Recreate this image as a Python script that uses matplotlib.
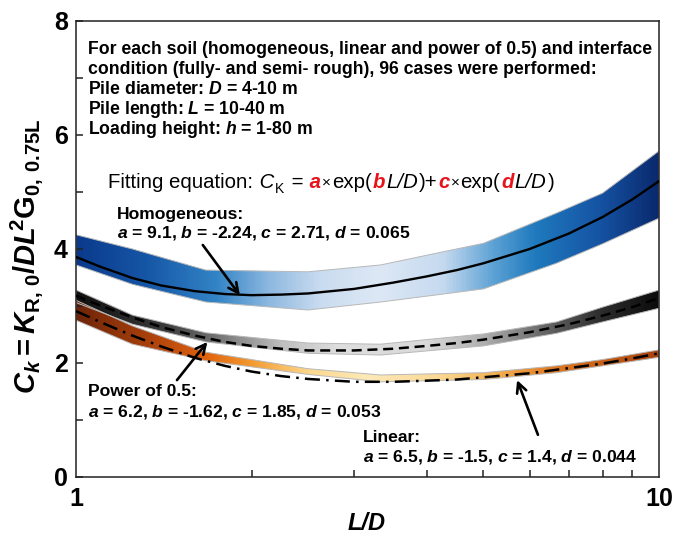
import numpy as np
import matplotlib
matplotlib.use('Agg')
import matplotlib.pyplot as plt
from matplotlib.colors import LinearSegmentedColormap
from matplotlib.ticker import FixedLocator, FixedFormatter, NullFormatter

plt.rcParams['font.family'] = ['Liberation Sans', 'DejaVu Sans']
plt.rcParams['mathtext.fontset'] = 'custom'
plt.rcParams['mathtext.rm'] = 'Liberation Sans:bold'
plt.rcParams['mathtext.it'] = 'Liberation Sans:italic:bold'
plt.rcParams['mathtext.bf'] = 'Liberation Sans:bold'
plt.rcParams['mathtext.sf'] = 'Liberation Sans:bold'

# ---------------- data ----------------
band_x = [1, 1.25, 1.67, 2.5, 3.33, 5, 6.67, 8, 10]
homo_hi = [4.25, 4.00, 3.63, 3.60, 3.72, 4.10, 4.63, 4.98, 5.72]
homo_lo = [3.72, 3.38, 3.07, 2.93, 3.07, 3.30, 3.75, 4.09, 4.54]
power_hi = [3.28, 2.84, 2.53, 2.35, 2.33, 2.51, 2.72, 2.98, 3.28]
power_lo = [3.06, 2.68, 2.37, 2.17, 2.14, 2.30, 2.52, 2.72, 2.96]
linear_hi = [3.10, 2.65, 2.19, 1.90, 1.79, 1.83, 1.95, 2.06, 2.23]
linear_lo = [2.75, 2.33, 2.04, 1.80, 1.67, 1.71, 1.83, 1.95, 2.10]

curve_x = [1, 1.1, 1.25, 1.4, 1.6, 1.8, 2, 2.25, 2.5, 3, 3.5, 4, 4.5, 5, 6, 7, 8, 9, 10]
homo_fit = [3.86, 3.69, 3.49, 3.36, 3.26, 3.21, 3.19, 3.20, 3.22, 3.30, 3.41, 3.52,
            3.63, 3.75, 4.00, 4.27, 4.56, 4.87, 5.19]
power_fit = [3.18, 3.01, 2.80, 2.63, 2.48, 2.37, 2.30, 2.25, 2.22, 2.22, 2.25, 2.30,
             2.35, 2.41, 2.54, 2.68, 2.83, 2.98, 3.14]
linear_fit = [2.91, 2.72, 2.48, 2.29, 2.09, 1.95, 1.85, 1.77, 1.72, 1.67, 1.67, 1.69,
              1.71, 1.75, 1.82, 1.91, 1.99, 2.08, 2.17]

xtick_vals = [1, 10]
xtick_labels = ['1', '10']
ytick_vals = [0, 2, 4, 6, 8]
ytick_labels = ['0', '2', '4', '6', '8']

blue_stops = [(0, '#0b3a8c'), (0.12, '#1656a6'), (0.24, '#3384c6'), (0.33, '#8db8e0'),
              (0.42, '#cadcf0'), (0.52, '#dde8f5'), (0.63, '#c6daef'), (0.72, '#5aa0d4'),
              (0.79, '#1f7abd'), (0.9, '#1553a3'), (1, '#0a2a6e')]
grey_stops = [(0, '#101010'), (0.15, '#3a3a3a'), (0.25, '#7a7a7a'), (0.35, '#bdbdbd'),
              (0.45, '#dedede'), (0.6, '#dadada'), (0.7, '#b0b0b0'), (0.8, '#6a6a6a'),
              (0.9, '#2e2e2e'), (1, '#0c0c0c')]
orange_stops = [(0, '#6e2408'), (0.12, '#a8400c'), (0.22, '#e0620e'), (0.3, '#f39a30'),
                (0.4, '#fcd88e'), (0.5, '#fde9b8'), (0.62, '#fbd995'), (0.72, '#f5b050'),
                (0.82, '#e07a22'), (1, '#a8420e')]

# ---------------- figure ----------------
W, H = 676, 541
fig = plt.figure(figsize=(W / 100, H / 100), dpi=100)
ax = fig.add_axes([76 / W, 64 / H, 583 / W, 456 / H])
ax.set_xscale('log')


def grad_band(x, lo, hi, stops):
    poly = ax.fill_between(x, lo, hi, facecolor='none', edgecolor='#b8b8b8',
                           lw=0.7, zorder=2)
    cmap = LinearSegmentedColormap.from_list('g', stops)
    img = ax.imshow(np.linspace(0, 1, 600)[None, :], cmap=cmap, extent=(0, 1, 0, 1),
                    transform=ax.transAxes, aspect='auto', zorder=1.5,
                    interpolation='bilinear')
    img.set_clip_path(poly.get_paths()[0], transform=ax.transData)


grad_band(band_x, homo_lo, homo_hi, blue_stops)
grad_band(band_x, power_lo, power_hi, grey_stops)
grad_band(band_x, linear_lo, linear_hi, orange_stops)

ax.plot(curve_x, homo_fit, color='black', lw=1.7, zorder=3)
ax.plot(curve_x, power_fit, color='black', lw=1.8, ls=(0, (4, 2.3)), zorder=3)
ax.plot(curve_x, linear_fit, color='black', lw=1.8, ls=(0, (6, 2.5, 1, 2.5)), zorder=3)

ax.set_xlim(1, 10)
ax.set_ylim(0, 8)

ax.xaxis.set_major_locator(FixedLocator(xtick_vals))
ax.xaxis.set_major_formatter(FixedFormatter(xtick_labels))
ax.xaxis.set_minor_locator(FixedLocator([2, 3, 4, 5, 6, 7, 8, 9]))
ax.xaxis.set_minor_formatter(NullFormatter())
ax.yaxis.set_major_locator(FixedLocator(ytick_vals))
ax.yaxis.set_major_formatter(FixedFormatter(ytick_labels))
ax.yaxis.set_minor_locator(FixedLocator([1, 3, 5, 7]))
ax.tick_params(which='both', direction='in', length=5, width=1.1, color='#222222')
ax.tick_params(axis='x', which='major', length=0, pad=7)
ax.tick_params(axis='y', which='major', pad=6)
for lab in ax.get_xticklabels() + ax.get_yticklabels():
    lab.set_fontsize(18)
    lab.set_fontweight('bold')
for s in ax.spines.values():
    s.set_linewidth(1.1)
    s.set_color('#222222')

# axis labels
fig.text(27 / W, 1 - 256 / H,
         r'$C_k = K_{\mathrm{R,\,0}}/DL^{\!\!2}\mathrm{G}_{\mathrm{0,\,0.75L}}$',
         rotation=90, ha='center', va='center', fontsize=21)
fig.text(367 / W, 1 - 524 / H, 'L/D', ha='center', va='center', fontsize=17,
         fontweight='bold', fontstyle='italic')


def fy(py):
    return (477 - py) / 456


def fx(px):
    return (px - 76) / 583


# info text
info = ['For each soil (homogeneous, linear and power of 0.5) and interface',
        'condition (fully- and semi- rough), 96 cases were performed:',
        r'Pile diameter: $D$ = 4-10 m',
        r'Pile length: $L$ = 10-40 m',
        r'Loading height: $h$ = 1-80 m']
for i, line in enumerate(info):
    ax.text(fx(88), fy(49 + 20 * i), line, transform=ax.transAxes, ha='left',
            va='center', fontsize=12.7, fontweight='bold')

# fitting equation (rich text chain)
red = '#e8141b'
pieces = [('Fitting equation:', {}),
          (' C', dict(fontstyle='italic')),
          ('K', dict(fontsize=10, dy=-3.2)),
          (' =', {}),
          (' a', dict(color=red, fontweight='bold', fontstyle='italic')),
          ('\u00d7', dict(fontsize=11, dy=1.5)),
          ('exp(', {}),
          ('b', dict(color=red, fontweight='bold', fontstyle='italic')),
          ('L/D', dict(fontstyle='italic')),
          (')+', {}),
          ('c', dict(color=red, fontweight='bold', fontstyle='italic')),
          ('\u00d7', dict(fontsize=11, dy=1.5)),
          ('exp(', {}),
          ('d', dict(color=red, fontweight='bold', fontstyle='italic')),
          ('L/D', dict(fontstyle='italic')),
          (')', {})]
first = None
prev = None
for s, kw in pieces:
    kw = dict(kw)
    dy = kw.pop('dy', 0)
    props = dict(fontsize=14.7, color='black')
    props.update(kw)
    if first is None:
        t = ax.annotate(s, xy=(fx(108), fy(182)), xycoords='axes fraction',
                        ha='left', va='center', **props)
        first = t
    else:
        t = ax.annotate(s, xy=(1, 0), xycoords=(prev, first), xytext=(0.7, dy),
                        textcoords='offset points', ha='left', va='bottom', **props)
    prev = t

# curve labels
labels = [('Homogeneous:', r'$a$ = 9.1, $b$ = -2.24, $c$ = 2.71, $d$ = 0.065', 117, 214, 233),
          ('Power of 0.5:', r'$a$ = 6.2, $b$ = -1.62, $c$ = 1.85, $d$ = 0.053', 88, 391, 412),
          ('Linear:', r'$a$ = 6.5, $b$ = -1.5, $c$ = 1.4, $d$ = 0.044', 363, 438, 457)]
for title, params, px, py1, py2 in labels:
    ax.text(fx(px), fy(py1), title, transform=ax.transAxes, ha='left', va='center',
            fontsize=12.6, fontweight='bold')
    ax.text(fx(px), fy(py2), params, transform=ax.transAxes, ha='left', va='center',
            fontsize=12.6, fontweight='bold')

# arrows (data coordinates)
arrows = [((1.91, 3.19), (1.65, 4.07)),
          ((1.68, 2.37), (1.49, 1.70)),
          ((5.71, 1.70), (6.20, 0.74))]
for head, tail in arrows:
    ax.annotate('', xy=head, xytext=tail, xycoords='data',
                arrowprops=dict(arrowstyle='->,head_length=0.7,head_width=0.35',
                                lw=1.9, color='black', shrinkA=0, shrinkB=0),
                zorder=5)

fig.savefig('out.png', dpi=100)
